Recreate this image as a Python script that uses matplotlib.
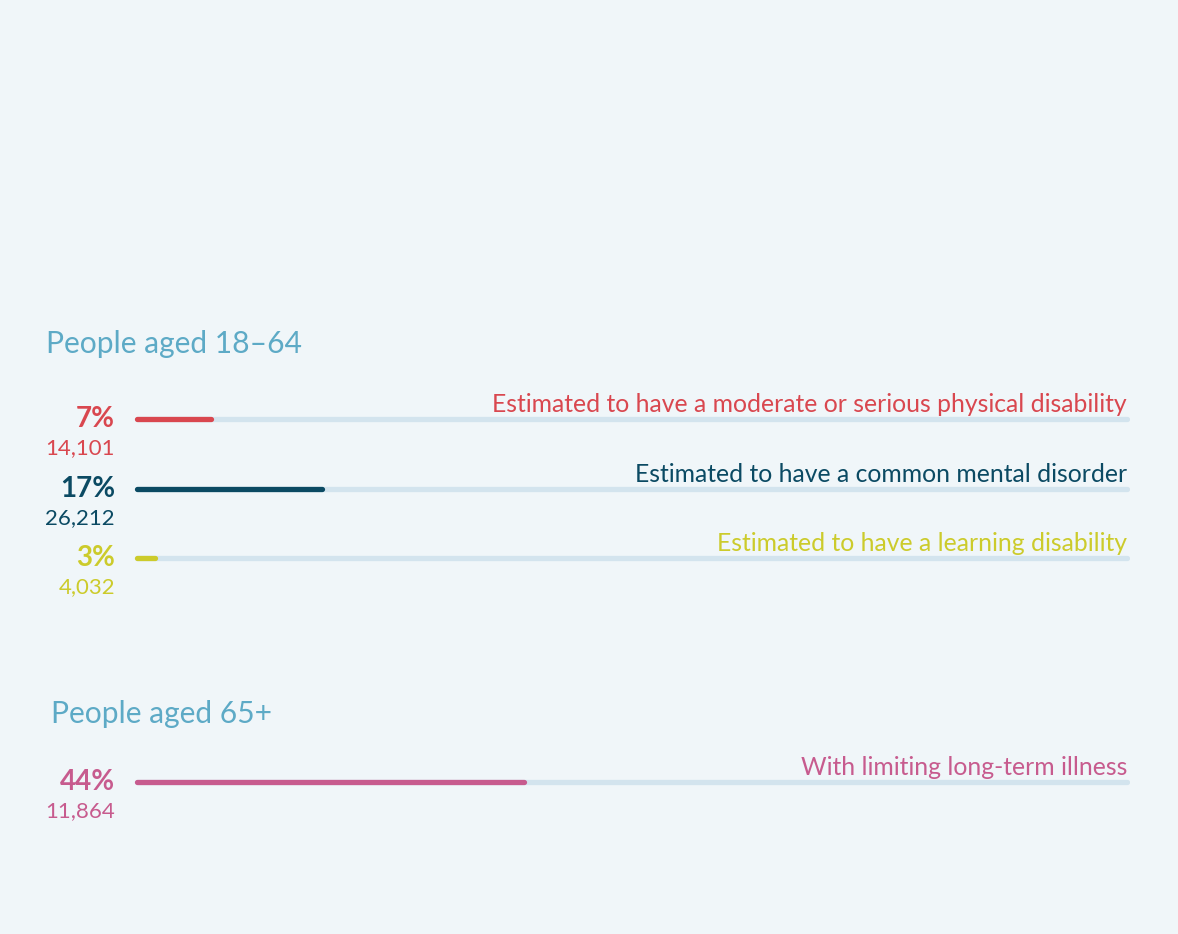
import matplotlib.pyplot as plt
from matplotlib import transforms

# data
groups = ['People aged 18\u201364', 'People aged 65+']
pct_labels = ['7%', '17%', '3%', '44%']
counts = ['14,101', '26,212', '4,032', '11,864']
bar_share = [8.0, 19.1, 2.4, 39.4]   # drawn bar length, % of the track
categories = ['Estimated to have a moderate or serious physical disability',
              'Estimated to have a common mental disorder',
              'Estimated to have a learning disability',
              'With limiting long-term illness']
colors = ['#d9474f', '#0b4a63', '#cccb2b', '#c75b8e']

# layout (pixels of a 1178x934 canvas)
W, H = 1178, 934
row_y = [419, 489, 558, 782]
group_y = [353, 723]
group_x = [46, 51]
bg = '#f0f6f9'
track_col = '#d3e4ee'
title_col = '#5daac6'
font = 'Lato'
lw = 3.8
cap = lw / 2 * 100 / 72 / 996 * 100   # round cap overhang in track %

fig = plt.figure(figsize=(W / 100, H / 100), dpi=100, facecolor=bg)
ax = fig.add_axes([134 / W, 0, 996 / W, 1])
ax.set_facecolor(bg)
ax.set_xlim(0, 100)
ax.set_ylim(H, 0)
ax.axis('off')

tr = transforms.blended_transform_factory(fig.transFigure, ax.transData)

for i, y in enumerate(row_y):
    ax.plot([cap, 100 - cap], [y, y], color=track_col, lw=lw,
            solid_capstyle='round', zorder=1)
    ax.plot([cap, bar_share[i] - cap], [y, y], color=colors[i], lw=lw,
            solid_capstyle='round', zorder=2)
    ax.text(115 / W, y + 8, pct_labels[i], transform=tr, ha='right',
            va='baseline', color=colors[i], fontsize=20, fontweight='bold',
            family=font)
    ax.text(115 / W, y + 35, counts[i], transform=tr, ha='right',
            va='baseline', color=colors[i], fontsize=16, family=font)
    ax.text(1127 / W, y - 7, categories[i], transform=tr, ha='right',
            va='baseline', color=colors[i], fontsize=17.8, family=font)

for g, name in enumerate(groups):
    ax.text(group_x[g] / W, group_y[g], name, transform=tr, ha='left',
            va='baseline', color=title_col, fontsize=21.6, family=font)

fig.savefig('out.png', dpi=100, facecolor=bg)
